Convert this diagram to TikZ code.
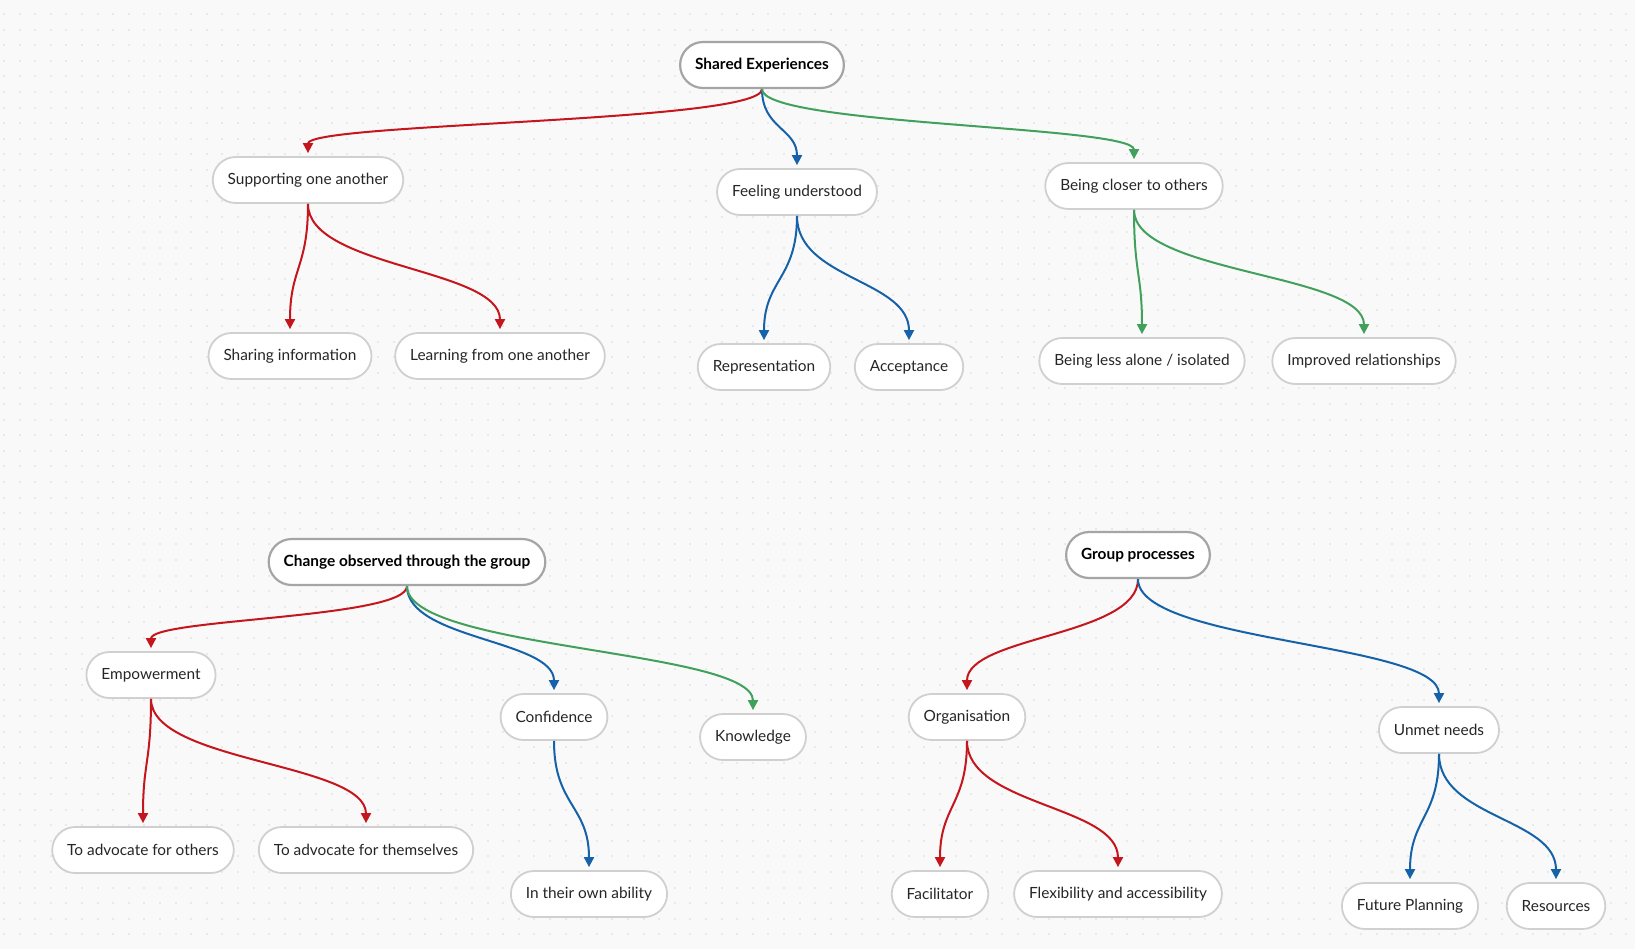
\documentclass[tikz,border=0pt]{standalone}
\usepackage{fontspec}
\setmainfont{Lato}
\usetikzlibrary{arrows.meta,calc}
\definecolor{edgered}{RGB}{196,22,28}
\definecolor{edgeblue}{RGB}{22,98,168}
\definecolor{edgegreen}{RGB}{64,160,92}
\definecolor{paper}{RGB}{249,249,249}
\definecolor{dotgray}{RGB}{233,233,233}
\definecolor{rimgray}{RGB}{208,208,208}
\definecolor{rootrim}{RGB}{165,165,165}
\tikzset{
  topic/.style={draw=rimgray,line width=0.9pt,fill=white,rounded corners=11.5pt,
    minimum height=23pt,inner xsep=7.5pt,text=black!85,font=\fontsize{7.7}{9}\selectfont},
  root/.style={topic,draw=rootrim,line width=1.1pt,text=black,font=\fontsize{7.7}{9}\selectfont\bfseries},
  branch/.style={line width=1pt,-{Triangle[length=5pt,width=5pt]},shorten >=1.5pt,
    to path={.. controls ($(\tikztostart)!.5!(\tikztostart|-\tikztotarget)$)
      and ($(\tikztotarget)!.5!(\tikztotarget|-\tikztostart)$) .. (\tikztotarget)}}
}
\begin{document}
\begin{tikzpicture}[x=0.5pt,y=-0.5pt]
  \fill[paper] (0,0) rectangle (1635,949);
  \useasboundingbox (0,0) rectangle (1635,949);
  % dotted background
  \foreach \y in {14,29.6,...,949}
    \draw[dotgray,line width=1pt,dash pattern=on 1pt off 6.8pt] (3,\y) -- (1635,\y);
  % roots
  \node[root] (shared) at (762,65) {Shared Experiences};
  \node[root] (change) at (407,562) {Change observed through the group};
  \node[root] (group) at (1138,555) {Group processes};
  % first level
  \node[topic] (sup) at (308,180) {Supporting one another};
  \node[topic] (feel) at (797,192) {Feeling understood};
  \node[topic] (close) at (1134,186) {Being closer to others};
  \node[topic] (emp) at (151,675) {Empowerment};
  \node[topic] (conf) at (554,717) {Confidence};
  \node[topic] (know) at (753,737) {Knowledge};
  \node[topic] (org) at (967,717) {Organisation};
  \node[topic] (unmet) at (1439,730) {Unmet needs};
  % second level
  \node[topic] (share) at (290,356) {Sharing information};
  \node[topic] (learn) at (500,356) {Learning from one another};
  \node[topic] (repr) at (764,367) {Representation};
  \node[topic] (acc) at (909,367) {Acceptance};
  \node[topic] (alone) at (1142,361) {Being less alone / isolated};
  \node[topic] (impr) at (1364,361) {Improved relationships};
  \node[topic] (advo) at (143,850) {To advocate for others};
  \node[topic] (advs) at (366,850) {To advocate for themselves};
  \node[topic] (abil) at (589,894) {In their own ability};
  \node[topic] (fac) at (940,894) {Facilitator};
  \node[topic] (flex) at (1118,894) {Flexibility and accessibility};
  \node[topic] (fut) at (1410,906) {Future Planning};
  \node[topic] (res) at (1556,906) {Resources};
  % branches
  \foreach \a/\b/\c in {shared/sup/edgered,shared/feel/edgeblue,shared/close/edgegreen,
      sup/share/edgered,sup/learn/edgered,feel/repr/edgeblue,feel/acc/edgeblue,
      close/alone/edgegreen,close/impr/edgegreen,
      change/emp/edgered,change/conf/edgeblue,change/know/edgegreen,
      emp/advo/edgered,emp/advs/edgered,conf/abil/edgeblue,
      group/org/edgered,group/unmet/edgeblue,
      org/fac/edgered,org/flex/edgered,unmet/fut/edgeblue,unmet/res/edgeblue}
    \draw[branch,\c] (\a.south) to (\b.north);
\end{tikzpicture}
\end{document}
